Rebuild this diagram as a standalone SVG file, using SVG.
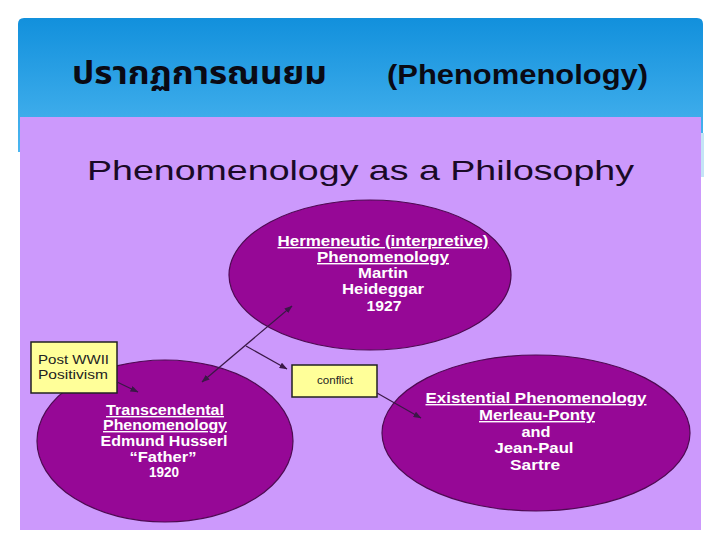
<svg xmlns="http://www.w3.org/2000/svg" width="720" height="540" viewBox="0 0 720 540">
<defs>
<linearGradient id="hdr" x1="0" y1="0" x2="0" y2="1">
<stop offset="0" stop-color="#1290dc"/>
<stop offset="1" stop-color="#4cb6f0"/>
</linearGradient>
<marker id="ah" viewBox="0 0 8 6" refX="7.5" refY="3" markerWidth="8" markerHeight="6" markerUnits="userSpaceOnUse" orient="auto-start-reverse">
<path d="M0,0 L8,3 L0,6 z" fill="#3a1846"/>
</marker>
<style>
.ell{fill:#960896;stroke:#4e0a52;stroke-width:1.2}
.box{fill:#ffff99;stroke:#222;stroke-width:1.5}
.wt{font-family:"Liberation Sans",Arial,sans-serif;font-weight:bold;font-size:14px;fill:#fff;text-anchor:middle}
.u{text-decoration:underline}
.bt{font-family:"Liberation Sans",Arial,sans-serif;fill:#222}
.con{stroke:#3a1846;stroke-width:1.2;fill:none;marker-end:url(#ah)}
</style>
</defs>
<rect width="720" height="540" fill="#fff"/>
<g id="header">
<path d="M18,152 V24 Q18,18 24,18 H697 Q703,18 703,24 V152 Z" fill="url(#hdr)"/>
<rect x="701" y="133" width="3" height="44" fill="#c4e4f6"/>
<text x="72" y="84" font-family="'Noto Sans Thai','Noto Sans',sans-serif" font-size="32" font-weight="bold" fill="#0a0a14" textLength="255" lengthAdjust="spacingAndGlyphs">ปรากฏการณนยม</text>
<text x="387" y="84" font-family="'Liberation Sans',Arial,sans-serif" font-size="27" font-weight="bold" fill="#0a0a14" textLength="261" lengthAdjust="spacingAndGlyphs">(Phenomenology)</text>
</g>
<rect id="panel" x="20" y="117" width="681" height="413" fill="#cc99fc"/>
<text id="subtitle" x="87" y="180" font-family="'Liberation Sans',Arial,sans-serif" font-size="28" fill="#1a0a26" textLength="547" lengthAdjust="spacingAndGlyphs">Phenomenology as a Philosophy</text>
<g id="hermeneutic">
<ellipse class="ell" cx="370" cy="275" rx="141" ry="75"/>
<text class="wt u" x="383" y="246" textLength="211" lengthAdjust="spacingAndGlyphs">Hermeneutic (interpretive)</text>
<text class="wt u" x="383" y="262" textLength="132" lengthAdjust="spacingAndGlyphs">Phenomenology</text>
<text class="wt" x="383" y="278" textLength="50" lengthAdjust="spacingAndGlyphs">Martin</text>
<text class="wt" x="383" y="294" textLength="82" lengthAdjust="spacingAndGlyphs">Heideggar</text>
<text class="wt" x="384" y="311" textLength="35" lengthAdjust="spacingAndGlyphs">1927</text>
</g>
<g id="transcendental">
<ellipse class="ell" cx="165" cy="441" rx="128" ry="81"/>
<text class="wt u" x="165" y="415" textLength="118" lengthAdjust="spacingAndGlyphs">Transcendental</text>
<text class="wt u" x="165" y="430" textLength="124" lengthAdjust="spacingAndGlyphs">Phenomenology</text>
<text class="wt" x="164" y="446" textLength="127" lengthAdjust="spacingAndGlyphs">Edmund Husserl</text>
<text class="wt" x="163" y="462" textLength="67" lengthAdjust="spacingAndGlyphs">“Father”</text>
<text class="wt" x="164" y="477" textLength="30" lengthAdjust="spacingAndGlyphs">1920</text>
</g>
<g id="existential">
<ellipse class="ell" cx="536" cy="433" rx="154" ry="78"/>
<text class="wt u" x="536" y="403" textLength="221" lengthAdjust="spacingAndGlyphs">Existential Phenomenology</text>
<text class="wt u" x="537" y="420" textLength="116" lengthAdjust="spacingAndGlyphs">Merleau-Ponty</text>
<text class="wt" x="536" y="437" textLength="29" lengthAdjust="spacingAndGlyphs">and</text>
<text class="wt" x="534" y="453" textLength="79" lengthAdjust="spacingAndGlyphs">Jean-Paul</text>
<text class="wt" x="535" y="470" textLength="50" lengthAdjust="spacingAndGlyphs">Sartre</text>
</g>
<g id="postwwii">
<rect class="box" x="31" y="342" width="86" height="51"/>
<text class="bt" x="38" y="364" font-size="13" textLength="71" lengthAdjust="spacingAndGlyphs">Post WWII</text>
<text class="bt" x="38" y="379" font-size="13" textLength="70" lengthAdjust="spacingAndGlyphs">Positivism</text>
</g>
<g id="conflict">
<rect class="box" x="292" y="365" width="85" height="32"/>
<text class="bt" x="335" y="384" font-size="10" text-anchor="middle" textLength="36" lengthAdjust="spacingAndGlyphs">conflict</text>
</g>
<g id="connectors">
<line class="con" x1="202" y1="382" x2="292" y2="306" marker-start="url(#ah)"/>
<line class="con" x1="246" y1="346" x2="287" y2="369"/>
<line class="con" x1="377" y1="393" x2="421" y2="418"/>
<line class="con" x1="117" y1="382" x2="138" y2="392"/>
</g>
</svg>
